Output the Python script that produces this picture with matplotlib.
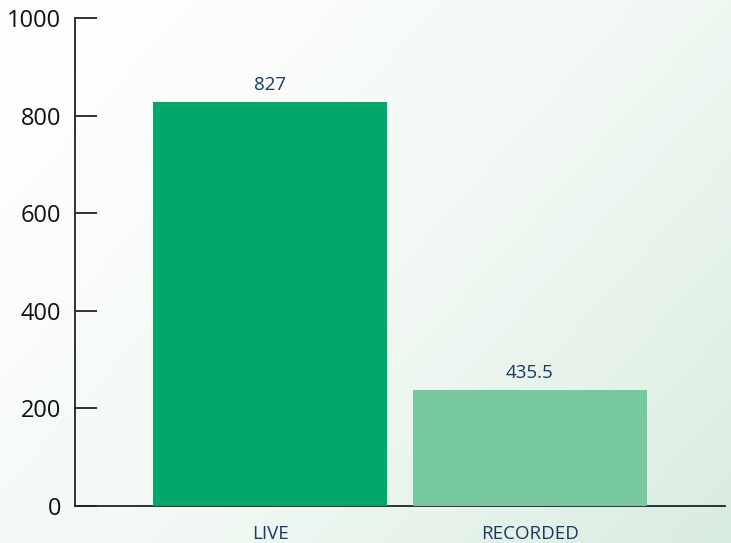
import matplotlib
matplotlib.use("Agg")
import matplotlib.pyplot as plt
import numpy as np
from matplotlib.colors import LinearSegmentedColormap

categories = ["LIVE", "RECORDED"]
bar_heights = [827, 238]
value_labels = ["827", "435.5"]
bar_colors = ["#00A86B", "#77C79F"]
yticks = [0, 200, 400, 600, 800, 1000]

plt.rcParams['font.family'] = ['Open Sans', 'DejaVu Sans']

W, H = 731, 543
fig = plt.figure(figsize=(W / 100, H / 100), dpi=100)

# background gradient
bg = fig.add_axes([0, 0, 1, 1], zorder=-10)
xx, yy = np.meshgrid(np.linspace(0, 1, 200), np.linspace(0, 1, 200))
t = np.clip((0.6 * xx + 0.4 * yy), 0, 1) ** 1.2
cmap = LinearSegmentedColormap.from_list("g", ["#ffffff", "#f1f8f3", "#d9ece1"])
bg.imshow(t, cmap=cmap, extent=[0, 1, 0, 1], aspect="auto", origin="upper", vmin=0, vmax=1)
bg.set_axis_off()

ax = fig.add_axes([75 / W, (H - 506) / H, (725 - 75) / W, (506 - 18) / H])
ax.patch.set_alpha(0)
x = np.arange(len(categories))
bars = ax.bar(x, bar_heights, width=0.9, color=bar_colors, zorder=3)
for xi, h, lab in zip(x, bar_heights, value_labels):
    ax.annotate(lab, (xi, h), xytext=(0, 6), textcoords="offset points",
                ha="center", va="bottom", fontsize=13.5, color="#1a3a5c")

ax.set_xlim(-0.75, 1.75)
ax.set_ylim(0, 1000)
ax.set_yticks(yticks)
ax.set_yticklabels([str(v) for v in yticks], fontsize=17, color="#111111")
ax.set_xticks(x)
ax.set_xticklabels(categories, fontsize=13.5, color="#1a3a5c")
ax.tick_params(axis="y", direction="in", length=16, width=1.3, pad=10, colors="#222222", labelcolor="#111111")
ax.tick_params(axis="x", length=0, pad=14)
for s in ["top", "right"]:
    ax.spines[s].set_visible(False)
ax.spines["left"].set_color("#222222")
ax.spines["left"].set_linewidth(1.3)
ax.spines["bottom"].set_color("#222222")
ax.spines["bottom"].set_linewidth(1.3)

fig.savefig("out.png", dpi=100)
